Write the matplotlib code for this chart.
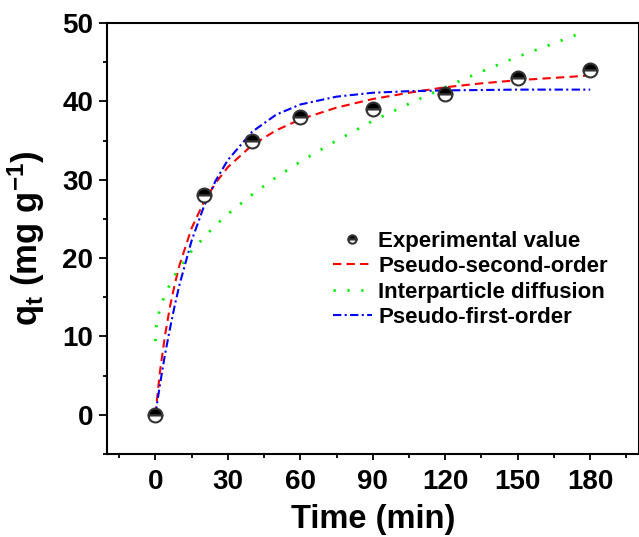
import matplotlib
matplotlib.use("Agg")
import matplotlib.pyplot as plt
from matplotlib.ticker import MultipleLocator

plt.rcParams['font.family'] = ['Liberation Sans', 'DejaVu Sans']
plt.rcParams['font.weight'] = 'bold'
plt.rcParams['mathtext.fontset'] = 'custom'
plt.rcParams['mathtext.rm'] = 'Liberation Sans:bold'
plt.rcParams['mathtext.bf'] = 'Liberation Sans:bold'
plt.rcParams['mathtext.it'] = 'Liberation Sans:bold'
plt.rcParams['mathtext.default'] = 'bf'

# Experimental data
exp_t = [0, 20, 40, 60, 90, 120, 150, 180]
exp_q = [0, 28, 35, 38, 39, 41, 43, 44]

# Pseudo-second-order curve
pso_t = [0, 2, 4, 6, 8, 10, 15, 20, 25, 30, 40, 50, 60, 75, 90, 105, 120, 135, 150, 165, 180]
pso_q = [0, 5.7, 10.1, 13.7, 16.6, 19.1, 23.8, 27.1, 29.6, 31.6, 34.4, 36.3, 37.7, 39.2,
         40.3, 41.1, 41.8, 42.3, 42.7, 43.0, 43.3]

# Interparticle diffusion curve
ipd_t = [0, 0.5, 1, 2, 3, 5, 7.5, 10, 15, 20, 25, 30, 40, 50, 60, 75, 90, 105, 120, 135, 150, 165, 176]
ipd_q = [9.4, 11.5, 12.4, 13.6, 14.5, 16.0, 17.5, 18.8, 20.9, 22.6, 24.2, 25.6, 28.1, 30.3,
         32.3, 35.0, 37.5, 39.7, 41.8, 43.8, 45.7, 47.4, 48.7]

# Pseudo-first-order curve
pfo_t = [0, 2, 4, 6, 8, 10, 15, 20, 25, 30, 40, 50, 60, 75, 90, 105, 120, 150, 180]
pfo_q = [0, 4.0, 7.7, 10.9, 13.9, 16.6, 22.2, 26.5, 29.9, 32.5, 36.1, 38.3, 39.6, 40.6,
         41.1, 41.3, 41.4, 41.5, 41.5]

labels = ['Experimental value', 'Pseudo-second-order', 'Interparticle diffusion', 'Pseudo-first-order']

fig = plt.figure(figsize=(6.39, 5.37), dpi=100)
ax = fig.add_axes([107/639, (537-454)/537, 531.5/639, (454-23)/537])

l1, = ax.plot(exp_t, exp_q, linestyle='none', marker='o', markersize=10,
              fillstyle='top', markerfacecolor='black', markerfacecoloralt='white',
              markeredgecolor='#333333', markeredgewidth=1.5, zorder=5)
l2, = ax.plot(pso_t, pso_q, color='#ff0000', lw=1.5, dashes=(4, 2.5))
l3, = ax.plot(ipd_t, ipd_q, color='#00ee00', lw=2.0, dashes=(0.8, 4.2))
l4, = ax.plot(pfo_t, pfo_q, color='#0000ff', lw=1.5, dashes=(4, 1.6, 1, 1.6))

ax.set_xlim(-20, 200)
ax.set_ylim(-5, 50)
ax.set_xticks([0, 30, 60, 90, 120, 150, 180])
ax.xaxis.set_minor_locator(MultipleLocator(15))
ax.yaxis.set_major_locator(MultipleLocator(10))
ax.yaxis.set_minor_locator(MultipleLocator(5))

for s in ax.spines.values():
    s.set_linewidth(1.5)
ax.tick_params(which='both', direction='out', width=1.3, labelsize=20)
ax.tick_params(axis='x', which='major', length=4.5, pad=6)
ax.tick_params(axis='x', which='minor', length=3)
ax.tick_params(axis='y', which='major', length=6, pad=4)
ax.tick_params(axis='y', which='minor', length=3)

ax.set_xlabel('Time (min)', fontsize=23.5, fontweight='bold', labelpad=7)
ax.set_ylabel(r'q$_{t}$ (mg g$^{-1}$)', fontsize=25, fontweight='bold', labelpad=11)

leg = ax.legend([l1, l2, l3, l4], labels, loc='upper left', bbox_to_anchor=(0.425, 0.518),
                frameon=False, fontsize=16, handlelength=1.75, handletextpad=0.3,
                labelspacing=0.2, borderpad=0, borderaxespad=0, markerscale=0.6)
for t in leg.get_texts():
    t.set_fontweight('bold')

fig.savefig('out.png', dpi=100)
